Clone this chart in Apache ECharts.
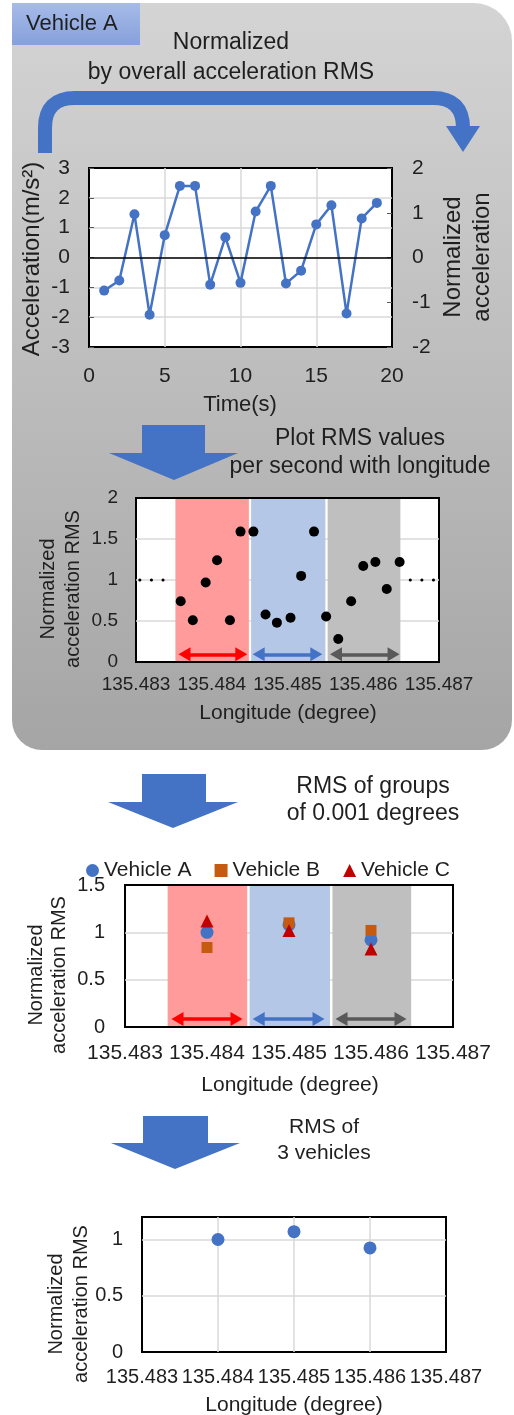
<!DOCTYPE html>
<html><head><meta charset="utf-8">
<script src="https://cdn.jsdelivr.net/npm/echarts@6/dist/echarts.min.js"></script>
<style>html,body{margin:0;padding:0;background:#fff}#c{width:514px;height:1415px}</style>
</head><body><div id="c"></div>
<script>
// ---------- Chart 1: acceleration time series (Vehicle A) ----------
const timeSec = [1,2,3,4,5,6,7,8,9,10,11,12,13,14,15,16,17,18,19];
const accel   = [-1.11,-0.77,1.45,-1.92,0.75,2.40,2.40,-0.91,0.68,-0.85,1.54,2.40,-0.87,-0.44,1.11,1.75,-1.88,1.31,1.83];

// ---------- Chart 2: per-second RMS vs longitude ----------
const lonPerSec = [135.48359,135.48375,135.48392,135.48407,135.48424,135.48438,135.48455,135.48471,135.48486,135.48504,
                   135.48518,135.48535,135.48551,135.48567,135.48584,135.48600,135.48616,135.48631,135.48648];
const rmsPerSec = [0.74,0.51,0.97,1.24,0.51,1.59,1.59,0.58,0.48,0.54,1.05,1.59,0.555,0.28,0.74,1.17,1.22,0.89,1.22];
const bandStart = [135.48352,135.48452,135.48553];
const bandEnd   = [135.48449,135.48550,135.48649];
const arrowStart2 = [135.48364,135.48462,135.48564];
const arrowEnd2   = [135.48439,135.48538,135.48640];
const arrowLevel2 = 0.094;
const refLevel = 1;
const refLeftLon  = [135.48305,135.48337];
const refRightLon = [135.48662,135.48694];

// ---------- Chart 3: RMS of 0.001-degree groups ----------
const groupLon = [135.484,135.485,135.486];
const vehA = [1.00,1.08,0.92];
const vehB = [0.84,1.10,1.02];
const vehC = [1.12,1.02,0.825];
const arrowStart3 = [135.48364,135.48463,135.48564];
const arrowEnd3   = [135.48436,135.48536,135.48636];
const arrowLevel3 = 0.084;

// ---------- Chart 4: RMS of 3 vehicles ----------
const allRms = [1.00,1.07,0.925];

// ---------- styling ----------
const FONT = '"Liberation Sans", Arial, sans-serif';
const TXT = '#1f1f1f';
const BLUE = '#4472C4';
const bandColors = ['#ff9b9b','#b4c7e7','#bfbfbf'];
const arrowColors = ['#ff0000','#4472C4','#595959'];
const GRIDC = '#d9d9d9';

const lonFmt = v => Number(v).toFixed(3);

function gridOpt(l,t,w,h){return {left:l,top:t,width:w,height:h,show:true,backgroundColor:'#fff',borderColor:'#000',borderWidth:2,containLabel:false};}
function lonAxis(gi,fs,margin){return {type:'value',gridIndex:gi,min:135.483,max:135.487,interval:0.001,
  axisLine:{show:false},axisTick:{show:false},
  axisLabel:{formatter:lonFmt,fontSize:fs,color:TXT,fontFamily:FONT,margin:margin,showMinLabel:true,showMaxLabel:true,hideOverlap:false},
  splitLine:{show:true,showMinLine:false,showMaxLine:false,lineStyle:{color:GRIDC,width:1.5}}};}
function frameAxis(gi,pos){return {type:'value',gridIndex:gi,position:pos,min:135.483,max:135.487,z:6,
  axisLine:{show:true,onZero:false,lineStyle:{color:'#000',width:2}},axisTick:{show:false},axisLabel:{show:false},splitLine:{show:false}};}
function yAx(gi,min,max,iv,fs,margin,extra){return Object.assign({type:'value',gridIndex:gi,min:min,max:max,interval:iv,
  axisLine:{show:false},axisTick:{show:false},
  axisLabel:{fontSize:fs,color:TXT,fontFamily:FONT,margin:margin},
  splitLine:{show:true,showMinLine:false,showMaxLine:false,lineStyle:{color:GRIDC,width:1.5}}},extra||{});}

function bandAreas(){return bandStart.map((s,i)=>[{xAxis:s,itemStyle:{color:bandColors[i],opacity:1}},{xAxis:bandEnd[i]}]);}
function arrowLines(st,en,lvl){return st.map((s,i)=>[{coord:[s,lvl],lineStyle:{color:arrowColors[i],width:3.5,type:'solid'},itemStyle:{color:arrowColors[i]}},{coord:[en[i],lvl]}]);}

function txt(x,y,text,fs,align){return {type:'text',x:x,y:y,z:100,silent:true,
  style:{text:text,fontSize:fs,fontFamily:FONT,fill:TXT,align:align||'center',verticalAlign:'middle'}};}
function vtxt(x,y,text,fs,lh){return {type:'text',x:x,y:y,z:100,rotation:Math.PI/2,silent:true,
  style:{text:text,fontSize:fs,fontFamily:FONT,fill:TXT,align:'center',verticalAlign:'middle',lineHeight:lh}};}
function downArrow(sx1,sx2,top,mid,hx1,hx2,tipX,tipY){return {type:'polygon',z:100,silent:true,
  shape:{points:[[sx1,top],[sx2,top],[sx2,mid],[hx2,mid],[tipX,tipY],[hx1,mid],[sx1,mid]]},style:{fill:BLUE}};}

const chart = echarts.init(document.getElementById('c'),null,{renderer:'canvas'});

const graphics = [
  {type:'rect',z:-10,silent:true,shape:{x:12,y:3,width:500,height:747,r:[0,38,30,30]},
   style:{fill:new echarts.graphic.LinearGradient(0,0,0,1,[{offset:0,color:'#d4d4d4'},{offset:1,color:'#a5a5a5'}])}},
  {type:'rect',z:-9,silent:true,shape:{x:12,y:3,width:128,height:42},
   style:{fill:new echarts.graphic.LinearGradient(0,0,0,1,[{offset:0,color:'#a6bbe9'},{offset:1,color:'#86a0da'}])}},
  txt(26,24,'Vehicle A',22,'left'),
  txt(231,43,'Normalized',23),
  txt(231,73,'by overall acceleration RMS',23),
  // curved arrow
  {type:'line',z:100,silent:true,shape:{x1:45,y1:153,x2:45,y2:127},style:{stroke:BLUE,lineWidth:14}},
  {type:'bezierCurve',z:100,silent:true,shape:{x1:45,y1:128,cpx1:45,cpy1:98,x2:75,y2:98},style:{stroke:BLUE,lineWidth:14,fill:null}},
  {type:'line',z:100,silent:true,shape:{x1:74,y1:98,x2:434,y2:98},style:{stroke:BLUE,lineWidth:14}},
  {type:'bezierCurve',z:100,silent:true,shape:{x1:433,y1:98,cpx1:463,cpy1:98,x2:463,y2:128},style:{stroke:BLUE,lineWidth:14,fill:null}},
  {type:'polygon',z:100,silent:true,shape:{points:[[446,126],[480,126],[463,152]]},style:{fill:BLUE}},
  // chart 1 titles
  vtxt(32,259,'Acceleration(m/s²)',24,26),
  vtxt(468,257,'Normalized\nacceleration',24,29),
  txt(240,405,'Time(s)',22),
  // arrow 1 + chart 2 texts
  downArrow(142,205,425,453,109,238,174,480),
  txt(360,439,'Plot RMS values',23),
  txt(360,467,'per second with longitude',23),
  vtxt(61,589,'Normalized\nacceleration RMS',20,25),
  txt(288,713,'Longitude (degree)',21),
  // arrow 2 + chart 3 texts
  downArrow(142,206,774,802,108,238,173,828),
  txt(373,787,'RMS of groups',23),
  txt(373,814,'of 0.001 degrees',23),
  vtxt(48,975,'Normalized\nacceleration RMS',20,23),
  txt(290,1085,'Longitude (degree)',21),
  // arrow 3 + chart 4 texts
  downArrow(143,208,1116,1143,111,240,175,1169),
  txt(324,1127,'RMS of',21),
  txt(324,1153,'3 vehicles',21),
  vtxt(69,1304,'Normalized\nacceleration RMS',20,25),
  txt(294,1405,'Longitude (degree)',21)
];

const option = {
  animation:false,
  backgroundColor:'#ffffff',
  textStyle:{fontFamily:FONT},
  graphic:{elements:graphics},
  legend:{data:['Vehicle A','Vehicle B','Vehicle C'],left:81,top:855,itemGap:23,itemWidth:13,itemHeight:13,
    textStyle:{fontSize:21,color:TXT,fontFamily:FONT},selectedMode:false},
  grid:[gridOpt(89,168,303,179),gridOpt(136,498,303,164),gridOpt(125,885,328,142),gridOpt(142,1217,304,135)],
  xAxis:[
    {type:'value',gridIndex:0,min:0,max:20,interval:5,axisLine:{show:false},axisTick:{show:false},
     axisLabel:{fontSize:21,color:TXT,fontFamily:FONT,margin:19},splitLine:{show:true,showMinLine:false,showMaxLine:false,lineStyle:{color:GRIDC,width:1.5}}},
    lonAxis(1,19,13),
    lonAxis(2,21,16),
    lonAxis(3,20,15),
    frameAxis(1,'top'), frameAxis(1,'bottom'),
    frameAxis(2,'top'), frameAxis(2,'bottom')
  ],
  yAxis:[
    yAx(0,-3,3,1,21,19,{axisTick:{show:true,inside:true,length:5,lineStyle:{color:'#595959'}}}),
    yAx(0,-2,2,1,21,20,{position:'right',splitLine:{show:false},axisTick:{show:true,inside:true,length:5,lineStyle:{color:'#595959'}}}),
    yAx(1,0,2,0.5,19,18),
    yAx(2,0,1.5,0.5,20,20),
    yAx(3,0,1.2,0.5,20,19,{axisLabel:{fontSize:20,color:TXT,fontFamily:FONT,margin:19,showMaxLabel:false}})
  ],
  series:[
    {type:'line',xAxisIndex:0,yAxisIndex:0,z:3,data:timeSec.map((t,i)=>[t,accel[i]]),
     symbol:'circle',symbolSize:10,itemStyle:{color:BLUE,opacity:1},lineStyle:{color:BLUE,width:2.5},
     markLine:{silent:true,symbol:'none',label:{show:false},lineStyle:{color:'#000',width:1.5,type:'solid'},data:[{yAxis:0}]}},
    // chart 2 bands + arrows
    {type:'scatter',xAxisIndex:1,yAxisIndex:2,z:1,data:[],
     markArea:{silent:true,data:bandAreas()},
     markLine:{silent:true,symbol:['triangle','triangle'],symbolSize:[14,12],label:{show:false},data:arrowLines(arrowStart2,arrowEnd2,arrowLevel2)}},
    {type:'line',xAxisIndex:1,yAxisIndex:2,z:2,data:refLeftLon.map(x=>[x,refLevel]),symbol:'none',
     lineStyle:{color:'#000',width:3,type:[0.1,11.5],cap:'round'}},
    {type:'line',xAxisIndex:1,yAxisIndex:2,z:2,data:refRightLon.map(x=>[x,refLevel]),symbol:'none',
     lineStyle:{color:'#000',width:3,type:[0.1,11.5],cap:'round'}},
    {type:'scatter',xAxisIndex:1,yAxisIndex:2,z:4,data:lonPerSec.map((x,i)=>[x,rmsPerSec[i]]),
     symbol:'circle',symbolSize:10,itemStyle:{color:'#000',opacity:1}},
    // chart 3 bands + arrows
    {type:'scatter',xAxisIndex:2,yAxisIndex:3,z:1,data:[],
     markArea:{silent:true,data:bandAreas()},
     markLine:{silent:true,symbol:['triangle','triangle'],symbolSize:[14,12],label:{show:false},data:arrowLines(arrowStart3,arrowEnd3,arrowLevel3)}},
    {name:'Vehicle A',type:'scatter',xAxisIndex:2,yAxisIndex:3,z:4,data:groupLon.map((x,i)=>[x,vehA[i]]),
     symbol:'circle',symbolSize:13,itemStyle:{color:BLUE,opacity:1}},
    {name:'Vehicle B',type:'scatter',xAxisIndex:2,yAxisIndex:3,z:5,data:groupLon.map((x,i)=>[x,vehB[i]]),
     symbol:'rect',symbolSize:11,itemStyle:{color:'#C55A11',opacity:1}},
    {name:'Vehicle C',type:'scatter',xAxisIndex:2,yAxisIndex:3,z:6,data:groupLon.map((x,i)=>[x,vehC[i]]),
     symbol:'triangle',symbolSize:13,itemStyle:{color:'#C00000',opacity:1}},
    // chart 4
    {name:'RMS of 3 vehicles',type:'scatter',xAxisIndex:3,yAxisIndex:4,z:4,data:groupLon.map((x,i)=>[x,allRms[i]]),
     symbol:'circle',symbolSize:13,itemStyle:{color:BLUE,opacity:1}}
  ]
};
chart.setOption(option);
</script></body></html>
